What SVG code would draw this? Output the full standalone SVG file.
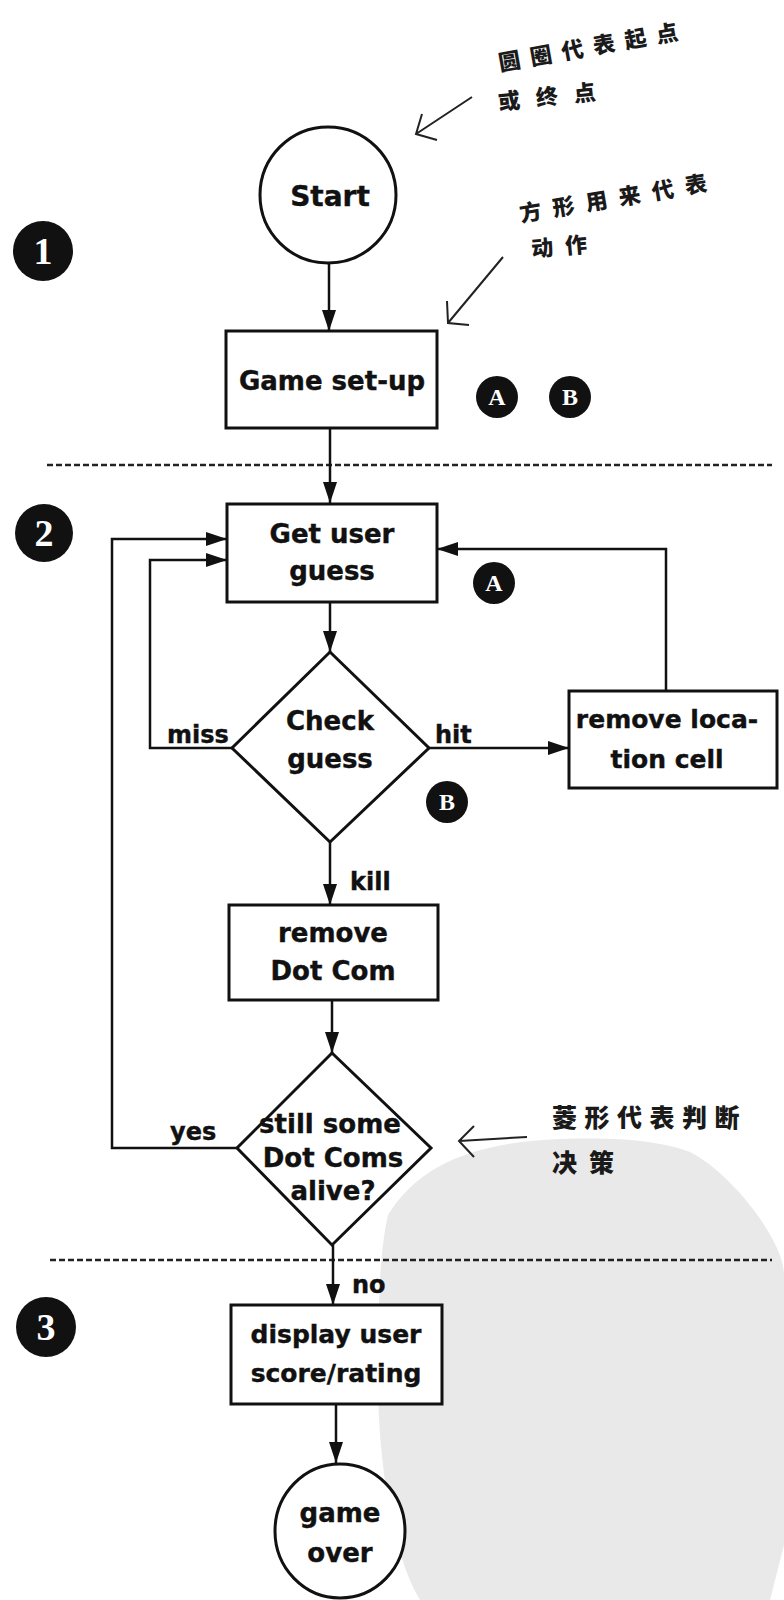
<svg xmlns="http://www.w3.org/2000/svg" width="784" height="1600" viewBox="0 0 784 1600">
<style>
.shape{fill:#fff;stroke:#111;stroke-width:3}
.conn{fill:none;stroke:#111;stroke-width:2.5}
.ann{fill:none;stroke:#222;stroke-width:2}
.dash{stroke:#222;stroke-width:2.5;stroke-dasharray:6 3}
.t{font-family:"DejaVu Sans","Liberation Sans",sans-serif;font-weight:bold;font-size:26px;fill:#111;text-anchor:middle;stroke:#111;stroke-width:0.4}
.lbl{font-family:"DejaVu Sans","Liberation Sans",sans-serif;font-weight:bold;font-size:24px;fill:#111;stroke:#111;stroke-width:0.4}
.cn{font-family:"Noto Sans CJK SC","Noto Sans CJK TC",sans-serif;font-weight:900;fill:#1a1a1a}
.badge{fill:#111}
.bt{font-family:"Liberation Serif",serif;font-weight:bold;fill:#fff;text-anchor:middle}
</style>
<defs>
<marker id="arr" markerUnits="userSpaceOnUse" markerWidth="22" markerHeight="14" refX="21" refY="7" orient="auto">
<path d="M0,0 L21,7 L0,14 z" fill="#111"/>
</marker>
</defs>
<rect width="784" height="1600" fill="#fff"/>
<g id="watermark">
<path d="M388 1215 C420 1162 480 1142 560 1139 C620 1137 660 1141 690 1152 C730 1172 784 1240 784 1275 L784 1545 L770 1600 L420 1600 C395 1560 378 1470 378 1380 C378 1300 380 1250 388 1215 Z" fill="#e9e9e9"/>
</g>
<g id="dividers">
<line class="dash" x1="47" y1="465" x2="772" y2="465"/>
<line class="dash" x1="50" y1="1260" x2="772" y2="1260"/>
</g>
<g id="connectors">
<line class="conn" x1="329" y1="263" x2="329" y2="331" marker-end="url(#arr)"/>
<line class="conn" x1="330" y1="428" x2="330" y2="503" marker-end="url(#arr)"/>
<line class="conn" x1="330" y1="602" x2="330" y2="652" marker-end="url(#arr)"/>
<line class="conn" x1="330" y1="842" x2="330" y2="905" marker-end="url(#arr)"/>
<line class="conn" x1="332" y1="1000" x2="332" y2="1053" marker-end="url(#arr)"/>
<line class="conn" x1="333" y1="1245" x2="333" y2="1305" marker-end="url(#arr)"/>
<line class="conn" x1="336" y1="1404" x2="336" y2="1463" marker-end="url(#arr)"/>
<path class="conn" d="M232 748 H150 V560 H227" marker-end="url(#arr)"/>
<path class="conn" d="M237 1148 H112 V539 H227" marker-end="url(#arr)"/>
<line class="conn" x1="429" y1="748" x2="569" y2="748" marker-end="url(#arr)"/>
<path class="conn" d="M666 691 V549 H437" marker-end="url(#arr)"/>
<text class="lbl" x="167" y="743">miss</text>
<text class="lbl" x="435" y="743">hit</text>
<text class="lbl" x="350" y="890">kill</text>
<text class="lbl" x="170" y="1140">yes</text>
<text class="lbl" x="352" y="1293">no</text>
</g>
<g id="start">
<ellipse class="shape" cx="328" cy="195" rx="68" ry="68"/>
<text class="t" x="330" y="206" style="font-size:28px">Start</text>
</g>
<g id="setup">
<rect class="shape" x="226" y="331" width="211" height="97"/>
<text class="t" x="332" y="390">Game set-up</text>
</g>
<g id="getguess">
<rect class="shape" x="227" y="504" width="210" height="98"/>
<text class="t" x="332" y="543">Get user</text>
<text class="t" x="332" y="580">guess</text>
</g>
<g id="checkguess">
<polygon class="shape" points="330,652 429,748 330,842 232,748"/>
<text class="t" x="330" y="730">Check</text>
<text class="t" x="330" y="768">guess</text>
</g>
<g id="removeloc">
<rect class="shape" x="569" y="691" width="208" height="97"/>
<text class="t" x="667" y="728" style="font-size:25px">remove loca-</text>
<text class="t" x="667" y="768" style="font-size:25px">tion cell</text>
</g>
<g id="removedotcom">
<rect class="shape" x="229" y="905" width="209" height="95"/>
<text class="t" x="333" y="942">remove</text>
<text class="t" x="333" y="980">Dot Com</text>
</g>
<g id="stillalive">
<polygon class="shape" points="332,1053 431,1148 332,1245 237,1148"/>
<text class="t" x="330" y="1133">still some</text>
<text class="t" x="333" y="1167">Dot Coms</text>
<text class="t" x="333" y="1200">alive?</text>
</g>
<g id="display">
<rect class="shape" x="231" y="1305" width="211" height="99"/>
<text class="t" x="336" y="1343" style="font-size:25px">display user</text>
<text class="t" x="336" y="1382" style="font-size:25px">score/rating</text>
</g>
<g id="gameover">
<ellipse class="shape" cx="340" cy="1531" rx="65" ry="67"/>
<text class="t" x="340" y="1522">game</text>
<text class="t" x="340" y="1562">over</text>
</g>
<g id="badges">
<circle class="badge" cx="43" cy="251" r="30"/><text class="bt" x="43" y="264" style="font-size:38px">1</text>
<circle class="badge" cx="44" cy="533" r="29"/><text class="bt" x="44" y="546" style="font-size:38px">2</text>
<circle class="badge" cx="46" cy="1327" r="30"/><text class="bt" x="46" y="1340" style="font-size:38px">3</text>
<circle class="badge" cx="497" cy="397" r="21"/><text class="bt" x="497" y="405" style="font-size:24px">A</text>
<circle class="badge" cx="570" cy="397" r="21"/><text class="bt" x="570" y="405" style="font-size:24px">B</text>
<circle class="badge" cx="494" cy="583" r="21"/><text class="bt" x="494" y="591" style="font-size:24px">A</text>
<circle class="badge" cx="447" cy="802" r="21"/><text class="bt" x="447" y="810" style="font-size:24px">B</text>
</g>
<g id="annotations">
<text class="cn" x="500" y="71" transform="rotate(-10 500 71)" style="font-size:22px;letter-spacing:10px">圆圈代表起点</text>
<text class="cn" x="499" y="110" transform="rotate(-6 499 110)" style="font-size:22px;letter-spacing:16px">或终点</text>
<path class="ann" d="M472 97 L416 134 M422 114 L416 134 L437 140"/>
<text class="cn" x="521" y="222" transform="rotate(-9.5 521 222)" style="font-size:22px;letter-spacing:11.5px">方形用来代表</text>
<text class="cn" x="532" y="257" transform="rotate(-5 532 257)" style="font-size:22px;letter-spacing:12px">动作</text>
<path class="ann" d="M503 257 L448 323 M447 301 L448 323 L469 325"/>
<text class="cn" x="552" y="1127" style="font-size:25px;letter-spacing:7.5px">菱形代表判断</text>
<text class="cn" x="552" y="1172" style="font-size:25px;letter-spacing:12px">决策</text>
<path class="ann" d="M527 1137 L459 1141 M474 1126 L459 1141 L474 1157"/>
</g>
</svg>
